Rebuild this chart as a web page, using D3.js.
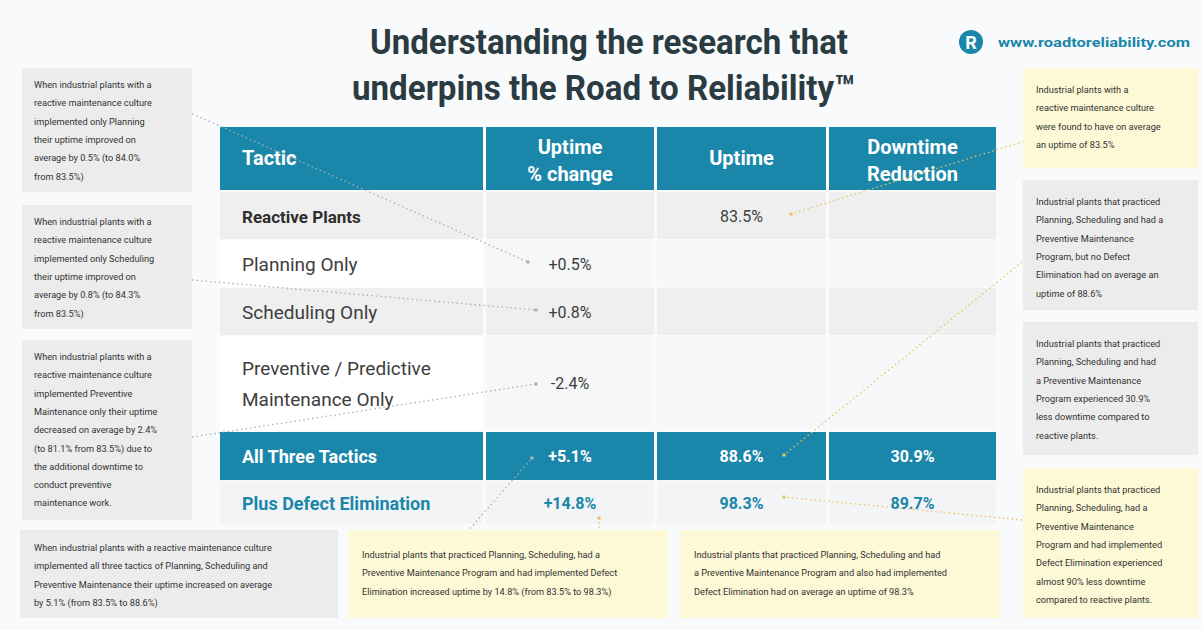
<!DOCTYPE html>
<html>
<head>
<meta charset="utf-8">
<script src="https://cdn.jsdelivr.net/npm/d3@7"></script>
<style>
  html, body { margin: 0; padding: 0; background: #f9fafb; }
  svg text { font-family: Roboto, "Open Sans", sans-serif; }
</style>
</head>
<body>
<div id="chart"></div>
<script>
// table data
const tactics = ['Reactive Plants', 'Planning Only', 'Scheduling Only', 'Preventive / Predictive\nMaintenance Only', 'All Three Tactics', 'Plus Defect Elimination']
const uptimeChange = [null, '+0.5%', '+0.8%', '-2.4%', '+5.1%', '+14.8%']
const uptime = [83.5, null, null, null, 88.6, 98.3]
const downtimeReduction = [null, null, null, null, 30.9, 89.7]
const headers = ['Tactic', 'Uptime\n% change', 'Uptime', 'Downtime\nReduction']

// notes around the table
const leftNotes = [
  ['When industrial plants with a', 'reactive maintenance culture', 'implemented only Planning', 'their uptime improved on', 'average by 0.5% (to 84.0%', 'from 83.5%)'],
  ['When industrial plants with a', 'reactive maintenance culture', 'implemented only Scheduling', 'their uptime improved on', 'average by 0.8% (to 84.3%', 'from 83.5%)'],
  ['When industrial plants with a', 'reactive maintenance culture', 'implemented Preventive', 'Maintenance only their uptime', 'decreased on average by 2.4%', '(to 81.1% from 83.5%) due to', 'the additional downtime to', 'conduct preventive', 'maintenance work.']
]
const bottomNotes = [
  ['When industrial plants with a reactive maintenance culture', 'implemented all three tactics of Planning, Scheduling and', 'Preventive Maintenance their uptime increased on average', 'by 5.1% (from 83.5% to 88.6%)'],
  ['Industrial plants that practiced Planning, Scheduling, had a', 'Preventive Maintenance Program and had implemented Defect', 'Elimination increased uptime by 14.8% (from 83.5% to 98.3%)'],
  ['Industrial plants that practiced Planning, Scheduling and had', 'a Preventive Maintenance Program and also had implemented', 'Defect Elimination had on average an uptime of 98.3%']
]
const rightNotes = [
  ['Industrial plants with a', 'reactive maintenance culture', 'were found to have on average', 'an uptime of 83.5%'],
  ['Industrial plants that practiced', 'Planning, Scheduling and had a', 'Preventive Maintenance', 'Program, but no Defect', 'Elimination had on average an', 'uptime of 88.6%'],
  ['Industrial plants that practiced', 'Planning, Scheduling and had', 'a Preventive Maintenance', 'Program experienced 30.9%', 'less downtime compared to', 'reactive plants.'],
  ['Industrial plants that practiced', 'Planning, Scheduling, had a', 'Preventive Maintenance', 'Program and had implemented', 'Defect Elimination experienced', 'almost 90% less downtime', 'compared to reactive plants.']
]

const W = 1203, H = 630
const TEAL = '#1a87aa'
const GRAY_BOX = '#ececec'
const YELLOW_BOX = '#fdf8d5'

const svg = d3.select('#chart').append('svg')
  .attr('width', W)
  .attr('height', H)

svg.append('rect').attr('width', W).attr('height', H).attr('fill', '#f9fafb')

// title
const title = svg.append('g')
title.append('text')
  .attr('x', 609).attr('y', 54)
  .attr('text-anchor', 'middle')
  .attr('font-size', 35).attr('font-weight', 700)
  .attr('fill', '#2a3b42')
  .attr('textLength', 478).attr('lengthAdjust', 'spacingAndGlyphs')
  .text('Understanding the research that')
title.append('text')
  .attr('x', 352).attr('y', 100)
  .attr('font-size', 35).attr('font-weight', 700)
  .attr('fill', '#2a3b42')
  .attr('textLength', 503).attr('lengthAdjust', 'spacingAndGlyphs')
  .text('underpins the Road to Reliability™')

// logo
const logo = svg.append('g').attr('transform', 'translate(971,42)')
logo.append('circle').attr('r', 12).attr('fill', TEAL)
logo.append('text')
  .attr('text-anchor', 'middle').attr('y', 7)
  .attr('font-size', 18).attr('font-weight', 700).attr('fill', '#fff')
  .text('R')
svg.append('text')
  .attr('x', 998).attr('y', 47)
  .attr('font-size', 13).attr('font-weight', 700).attr('fill', TEAL)
  .attr('textLength', 192).attr('lengthAdjust', 'spacingAndGlyphs')
  .text('www.roadtoreliability.com')

// table layout
const colEdges = [220, 486, 657, 829, 999]
const rowTops = [192, 240, 288, 336, 432, 481]
const rowBottoms = [239, 287, 335, 430, 480, 524]
const headTop = 127, headBottom = 190

const col = d3.scaleOrdinal().domain(d3.range(4)).range(colEdges.slice(0, 4))
const colW = i => colEdges[i + 1] - colEdges[i] - 3
const colMid = i => col(i) + colW(i) / 2

const rowBg = (r, c) => {
  if (r === 4) return TEAL
  if (r === 0 || r === 2) return '#efefef'
  if (r === 5) return '#f3f4f5'
  return c === 0 ? '#ffffff' : '#f6f7f8'
}

// dotted connectors
const grayDots = [
  [[188, 112], [528, 262]],
  [[192, 280], [536, 310]],
  [[192, 437], [536, 384]],
  [[467, 532], [532, 458]]
]
const yellowDots = [
  [[1028, 140], [791, 214]],
  [[1022, 262], [784, 455]],
  [[1022, 520], [784, 497]],
  [[599, 528], [599, 518]]
]

// header
const head = svg.append('g')
d3.range(4).forEach(i => {
  head.append('rect')
    .attr('x', col(i)).attr('y', headTop)
    .attr('width', colW(i)).attr('height', headBottom - headTop)
    .attr('fill', TEAL)
  const lines = headers[i].split('\n')
  const t = head.append('text')
    .attr('fill', '#fff').attr('font-size', 20).attr('font-weight', 700)
    .attr('text-anchor', i === 0 ? 'start' : 'middle')
  lines.forEach((l, k) => {
    t.append('tspan')
      .attr('x', i === 0 ? col(0) + 22 : colMid(i))
      .attr('y', lines.length === 1 ? 165 : 154 + k * 27)
      .text(l)
  })
})

// body rows
const body = svg.append('g')
tactics.forEach((name, r) => {
  const y0 = rowTops[r], h = rowBottoms[r] - rowTops[r]
  d3.range(4).forEach(c => {
    body.append('rect')
      .attr('x', col(c)).attr('y', y0)
      .attr('width', colW(c)).attr('height', h)
      .attr('fill', rowBg(r, c))
  })
})

const connectors = svg.append('g')
const drawDots = (list, color) => list.forEach(([a, b]) => {
  connectors.append('line')
    .attr('x1', a[0]).attr('y1', a[1]).attr('x2', b[0]).attr('y2', b[1])
    .attr('stroke', color).attr('stroke-width', 1.3)
    .attr('stroke-dasharray', '1.5,3')
  connectors.append('circle').attr('cx', b[0]).attr('cy', b[1]).attr('r', 1.8).attr('fill', color)
})
drawDots(grayDots, '#a9b0b5')
drawDots(yellowDots, '#e9c45a')

const cellText = svg.append('g')
tactics.forEach((name, r) => {
  const mid = (rowTops[r] + rowBottoms[r]) / 2
  const lines = name.split('\n')
  let fill = '#3d3d3d', weight = 400, size = 19
  if (r === 0) { weight = 700; size = 17; fill = '#2e2e2e' }
  if (r === 4) { weight = 700; fill = '#fff'; size = 18 }
  if (r === 5) { weight = 700; fill = TEAL; size = 18 }
  const t = cellText.append('text')
    .attr('fill', fill).attr('font-size', size).attr('font-weight', weight)
  lines.forEach((l, k) => {
    t.append('tspan')
      .attr('x', col(0) + 22)
      .attr('y', mid + 7 + (k - (lines.length - 1) / 2) * 31)
      .text(l)
  })

  const vals = [uptimeChange[r],
    uptime[r] == null ? null : uptime[r].toFixed(1) + '%',
    downtimeReduction[r] == null ? null : downtimeReduction[r].toFixed(1) + '%']
  vals.forEach((v, k) => {
    if (v == null) return
    cellText.append('text')
      .attr('x', colMid(k + 1)).attr('y', mid + 6)
      .attr('text-anchor', 'middle')
      .attr('font-size', 16).attr('font-weight', r >= 4 ? 700 : 400)
      .attr('fill', r === 4 ? '#fff' : (r === 5 ? TEAL : '#3d3d3d'))
      .text(v)
  })
})

// note boxes
const noteBox = (x, y, w, h, fill, lines, pad, top) => {
  const g = svg.append('g')
  g.append('rect')
    .attr('x', x).attr('y', y).attr('width', w).attr('height', h)
    .attr('fill', fill)
  g.append('text')
    .attr('font-size', 9.2).attr('fill', '#333')
    .selectAll('tspan').data(lines).join('tspan')
    .attr('x', x + pad)
    .attr('y', (d, i) => y + top + i * 18.3)
    .text(d => d)
}

const leftBoxes = [[22, 68, 170, 124], [22, 205, 170, 124], [22, 340, 170, 180]]
leftNotes.forEach((lines, i) => {
  const [x, y, w, h] = leftBoxes[i]
  noteBox(x, y, w, h, GRAY_BOX, lines, 12, 20)
})

const bottomBoxes = [[20, 530, 318, 88, GRAY_BOX], [348, 530, 320, 88, YELLOW_BOX], [680, 530, 320, 88, YELLOW_BOX]]
bottomNotes.forEach((lines, i) => {
  const [x, y, w, h, f] = bottomBoxes[i]
  noteBox(x, y, w, h, f, lines, 14, i === 0 ? 21 : 28)
})

const rightBoxes = [[1023, 68, 175, 100, YELLOW_BOX], [1023, 180, 175, 130, GRAY_BOX], [1023, 322, 175, 133, GRAY_BOX], [1023, 468, 175, 150, YELLOW_BOX]]
rightNotes.forEach((lines, i) => {
  const [x, y, w, h, f] = rightBoxes[i]
  noteBox(x, y, w, h, f, lines, 13, 25)
})
</script>
</body>
</html>
